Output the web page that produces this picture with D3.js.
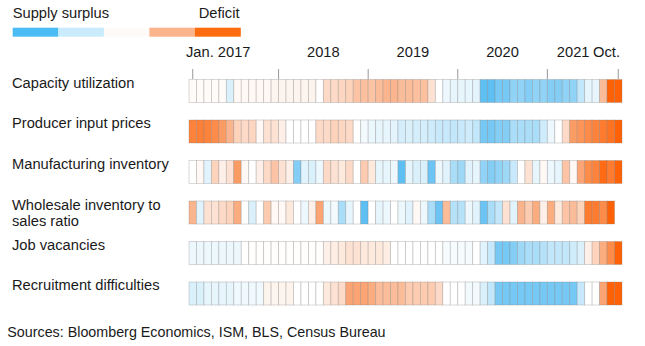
<!DOCTYPE html>
<html><head><meta charset="utf-8">
<script src="https://cdn.jsdelivr.net/npm/d3@7"></script>
<style>
body{margin:0;background:#fff;}
svg{display:block;font-family:"Liberation Sans",Arial,Helvetica,sans-serif;}
</style></head><body>
<script>
// Months Jan 2017 .. Oct 2021 (58). Score: -2 = strong supply surplus, +2 = strong deficit
const months = d3.range(58).map(i => new Date(2017, i, 1));
const rowLabels = [["Capacity utilization"],["Producer input prices"],["Manufacturing inventory"],["Wholesale inventory to","sales ratio"],["Job vacancies"],["Recruitment difficulties"]];
const capacity = [0.05,0.05,0.05,0.05,0.05,-0.6,0.1,0.1,0.1,0.1,0.1,0.15,0.15,0.15,0.15,0.15,0.15,0,0.5,0.5,0.55,0.6,0.8,0.85,0.8,0.9,1.0,1.0,0.9,0.9,0.85,0.85,0.4,0,-0.3,-0.4,-0.4,-0.4,-0.45,-1.8,-1.8,-1.6,-1.6,-1.4,-1.4,-1.5,-1.4,-1.4,-1.5,-1.5,-1.4,-1.4,-1.0,-0.4,-0.4,0.9,2.0,2.0];
const producer = [1.6,1.65,1.6,1.5,1.3,1.0,0.6,0.5,0.55,0.1,0.4,0.4,0.2,0,0,0,0,0.5,0.5,0.6,0.55,0.5,0,-0.2,-0.35,-0.4,-0.4,-0.45,-0.7,-0.6,-0.7,-0.7,-0.8,-0.9,-0.9,-1.0,-0.9,-0.8,-1.0,-1.6,-1.6,-1.5,-1.5,-1.2,-1.2,-1.2,-1.2,-0.8,-0.3,0,0.5,1.3,1.4,1.5,1.6,1.7,1.8,2.0];
const mfgInventory = [0,0.1,-0.5,0.6,0.2,0.4,1.3,0.1,0,0.2,0.5,0.8,0.4,0.2,-1.5,-0.5,-0.6,-0.3,0.5,0.4,0.3,0.5,0,0.7,0.3,-0.4,-0.4,-0.3,-1.8,-0.4,-0.6,-0.6,-1.7,-0.3,-0.5,-1.2,-1.3,-0.5,-0.4,-1.4,-1.5,-1.4,-1.3,-0.9,0,0.4,-0.4,0.1,-0.3,-0.4,0.8,0.1,1.2,1.5,1.6,1.9,1.7,2.0];
const wholesale = [1.0,-0.5,0.4,0.4,0.5,0.6,1.1,0,-0.6,0,0.7,0.1,0.1,0.3,0,-0.3,0.2,1.2,-0.3,-0.2,-1.2,-0.4,0,-1.8,0,-0.4,-0.3,0,-0.3,-0.5,0.1,-0.3,-1.2,-1.7,0.9,-1.1,-1.1,-0.3,-0.5,-1.7,-1.2,-1.0,0.4,-0.5,1.0,0.7,1.1,0.2,1.1,0.3,0.8,0.9,0.6,1.7,1.7,1.5,2.0];
const jobs = [-0.3,-0.3,-0.3,-0.3,-0.3,-0.3,-0.3,0.02,0.02,0.02,0.02,0.02,0.02,0.02,0.02,0.02,0.02,0.02,0.2,0.25,0.3,0.4,0.4,0.3,0.3,0.3,0.25,0,0,0,0,0,0,0,-0.15,-0.15,-0.15,-0.15,0,-0.5,-0.9,-1.6,-1.6,-1.5,-1.3,-1.2,-1.2,-1.1,-1.0,-1.0,-1.0,-0.8,-0.6,0.2,0.6,1.1,1.5,2.0];
const recruitment = [-0.6,-0.6,-0.4,-0.4,-0.4,-0.4,-0.25,-0.25,-0.25,-0.25,0.15,0.15,0.15,0.15,0,0,0,0,0.3,0.4,0.5,1.2,1.2,1.2,1.1,0.9,0.9,0.9,0.9,0.7,0.7,0.7,0.7,0.5,0,0,0,-0.2,-0.2,-0.6,-1.0,-1.6,-1.6,-1.6,-1.6,-1.6,-1.6,-1.6,-1.6,-1.6,-1.6,-1.6,-0.9,0,0,1.2,2.0,2.0];
const series = [capacity, producer, mfgInventory, wholesale, jobs, recruitment];
const tickMonths = [0, 12, 24, 36, 48, 57];
const tickLabels = ["Jan. 2017", "2018", "2019", "2020", "2021", "Oct."];
const legendColors = ["#4bbdf4","#c9ebfb","#fefaf7","#fbb48c","#ff6b0f"];

const W = 645, H = 346;
const FS = 14.7;
const svg = d3.select("body").append("svg").attr("width", W).attr("height", H);

const x = d3.scaleBand().domain(d3.range(58)).range([189, 622]).padding(0);
const y = d3.scaleBand().domain(d3.range(6)).range([79.5, 305]).paddingInner(0.432).paddingOuter(0);
const color = d3.scaleLinear().domain([-2,-1,0,1,2])
  .range(["#45b5f1","#c2e7fa","#ffffff","#fbb58e","#ff6206"]).clamp(true);
const bw = x.bandwidth();

// legend
const lx = d3.scaleBand().domain(d3.range(5)).range([12.7, 240.5]);
svg.selectAll("rect.leg").data(legendColors).join("rect")
  .attr("x", (d,i) => lx(i)).attr("y", 27.7).attr("width", lx.bandwidth()+0.3).attr("height", 9)
  .attr("fill", d => d);
svg.append("text").attr("x", 12.7).attr("y", 18).attr("font-size", FS).attr("fill", "#1a1a1a").text("Supply surplus");
svg.append("text").attr("x", 239.5).attr("y", 18).attr("font-size", FS).attr("fill", "#1a1a1a").attr("text-anchor","end").text("Deficit");

// ticks: first & last at month centre, year ticks at year start
const last = tickMonths.length - 1;
const tickX = (m, j) => x(m) + ((j === 0 || j === last) ? bw/2 : 0);
svg.selectAll("line.tick").data(tickMonths).join("line")
  .attr("x1", tickX).attr("x2", tickX).attr("y1", 69).attr("y2", 79)
  .attr("stroke", "#999").attr("stroke-width", 1);
// labels: first starts near tick, middle years centred over year, 2021 start, Oct. end
svg.selectAll("text.tick").data(tickMonths).join("text")
  .attr("x", (m,j) => j === 0 ? x(m) - 3 : j === last ? x(m) + bw - 2 : j === 4 ? x(m) + 9.5 : x(m + 6))
  .attr("y", 57).attr("font-size", FS).attr("fill", "#1a1a1a")
  .attr("text-anchor", (m,j) => j === 0 || j === 4 ? "start" : j === last ? "end" : "middle")
  .text((m,j) => tickLabels[j]);

// rows
series.forEach((vals, r) => {
  const g = svg.append("g");
  g.selectAll("rect").data(vals).join("rect")
    .attr("x", (d,i) => x(i)).attr("y", y(r))
    .attr("width", bw).attr("height", y.bandwidth())
    .attr("fill", d => color(d))
    .attr("stroke", "rgba(120,120,120,0.35)").attr("stroke-width", 0.8);
  const lines = rowLabels[r];
  const t = svg.append("text").attr("x", 12).attr("font-size", FS).attr("fill", "#1a1a1a");
  const base = y(r) + (lines.length > 1 ? 8.8 : 8.2);
  lines.forEach((s, k) => t.append("tspan").attr("x", 12).attr("y", base + k*16.7).text(s));
});

svg.append("text").attr("x", 7.3).attr("y", 336.5).attr("font-size", 14.3).attr("fill", "#1a1a1a")
  .text("Sources: Bloomberg Economics, ISM, BLS, Census Bureau");
</script>
</body></html>
